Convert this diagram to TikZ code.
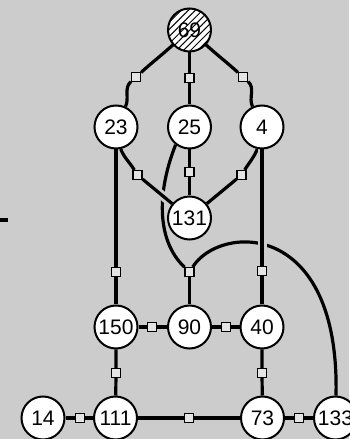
\documentclass[tikz,border=0pt]{standalone}
\usepackage{fontspec}
\setmainfont{Liberation Sans}
\usetikzlibrary{patterns.meta}
\definecolor{canvas}{RGB}{204,204,204}
\definecolor{tickgray}{RGB}{228,228,228}
\pgfdeclarelayer{wires}
\pgfsetlayers{wires,main}

\begin{document}
\begin{tikzpicture}[x=1pt, y=1pt, font=\fontsize{21}{21}\selectfont,
  vertex/.style={circle, draw, line width=2pt, fill=white, minimum size=43pt, inner sep=0pt},
  tick/.style={rectangle, draw, line width=1.2pt, fill=tickgray, minimum size=9pt, inner sep=0pt},
  wire/.style={line width=3.2pt},
  gap/.style={preaction={draw=canvas, line width=9pt}}]

\begin{pgfonlayer}{wires}
  \fill[canvas] (0,0) rectangle (349,439);
\end{pgfonlayer}
\useasboundingbox (0,0) rectangle (349,439);

% vertices
\node [vertex, preaction={fill=white},
  pattern={Lines[angle=45, distance=5pt, line width=1pt]}] (v-69) at (189.5,409) {69};

\foreach \m/\x/\y in {23/116/312, 25/189.5/312, 4/262/312, 131/189.5/221,
  150/116/112, 90/189.5/112, 40/262/112,
  14/43/21, 111/115.5/21, 73/262.5/21, 133/335.5/21}
  \node [vertex] (v-\m) at (\x,\y) {\m};

% little squares sitting on the edges
\foreach \t/\x/\y in {69-23/136/362, 69-25/189.5/361, 69-4/243/362,
  23-131/137.5/264, 25-131/189.5/267, 4-131/241.5/264,
  23-150/116/167, 90/189.5/167, 4-40/262/168,
  150-90/152/112, 90-40/226/112, 150-111/116/66, 40-73/262/66,
  14-111/80/21, 111-73/189/21, 73-133/299/21}
  \node [tick] (t-\t) at (\x,\y) {};

\coordinate (stub) at (0,219);

\begin{pgfonlayer}{wires}
  % the two long curves first, the crossing lines cut through them
  \draw [wire] (v-25.232) .. controls (158,250) and (155,200) .. (t-90);
  \draw [wire] (t-90) .. controls (220,215) and (340,220) .. (v-133);
  \draw [wire] (t-90) -- (v-90);

  \draw [wire] (v-69) to[out=222, in=42] (t-69-23) to[out=222, in=65] (v-23);
  \draw [wire] (v-69) to[out=-42, in=138] (t-69-4) to[out=-42, in=115] (v-4);

  \draw [wire] (v-23.-78) to[out=-68, in=122] (t-23-131);
  \draw [wire, gap] (t-23-131) -- (v-131);
  \draw [wire] (v-4.-102) to[out=-112, in=58] (t-4-131) -- (v-131);

  \draw [wire, gap] (v-4) -- (t-4-40);
  \draw [wire] (t-4-40) -- (v-40);

  \foreach \a/\b in {69/25, 25/131, 23/150, 150/111, 40/73,
    150/90, 90/40, 14/111, 111/73, 73/133}
    \draw [wire] (v-\a) -- (t-\a-\b) -- (v-\b);

  \draw [wire] (stub) -- ++(8,0);
\end{pgfonlayer}

\end{tikzpicture}
\end{document}
